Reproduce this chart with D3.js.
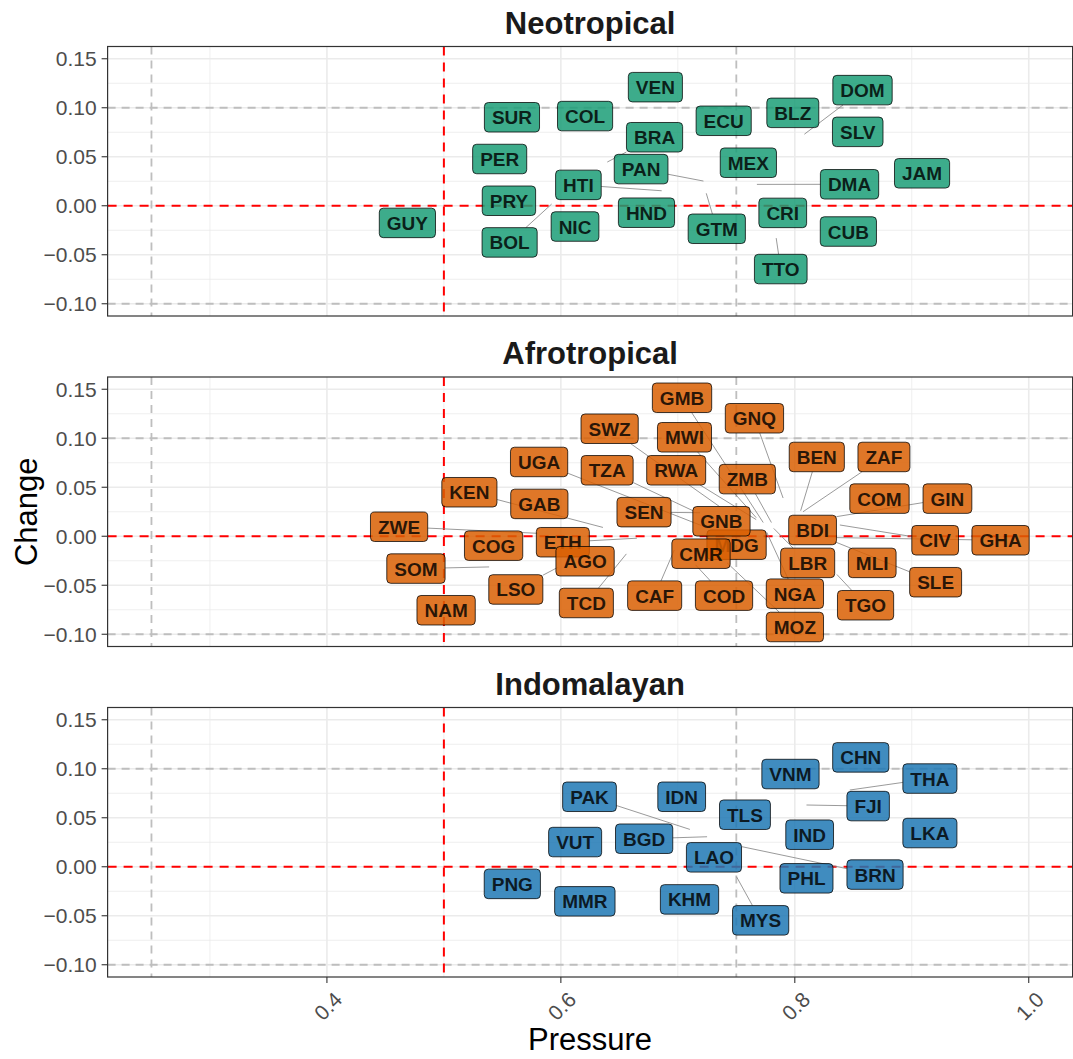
<!DOCTYPE html>
<html>
<head>
<meta charset="utf-8">
<script src="https://cdn.jsdelivr.net/npm/d3@7"></script>
<style>
  body { margin: 0; background: #ffffff; }
  svg { display: block; }
</style>
</head>
<body>
<svg id="chart" width="1073" height="1059"></svg>
<script>
// ---- Data -------------------------------------------------------------
const realms = ["Neotropical", "Afrotropical", "Indomalayan"];
const realmColors = ["#1B9E77", "#D95F02", "#1F78B4"];

// Neotropical: country code, pressure, change, and resolved label anchor (data units)
const neoCodes          = ["GUY","SUR","COL","VEN","ECU","BLZ","DOM","SLV","BRA","PAN","HTI","PER","PRY","BOL","NIC","HND","GTM","MEX","DMA","CRI","CUB","TTO","JAM"];
const neoPressure       = [0.4688,0.5582,0.6207,0.6808,0.7392,0.7983,0.8082,0.8538,0.6397,0.7219,0.6862,0.5477,0.5556,0.5921,0.6121,0.6732,0.7243,0.7603,0.7676,0.7897,0.8458,0.7841,0.9088];
const neoChange         = [-0.0175,0.0903,0.0915,0.121,0.0867,0.0948,0.073,0.0754,0.0446,0.0252,0.0153,0.0477,0.0051,0.0017,-0.0212,-0.0071,0.0127,0.0439,0.0218,-0.0073,-0.0263,-0.033,0.0331];
const neoLabelPressure  = [0.4688,0.5582,0.6207,0.6808,0.7392,0.7983,0.8579,0.8538,0.6801,0.6686,0.615,0.5477,0.5556,0.5562,0.6121,0.6732,0.7333,0.7603,0.8468,0.7897,0.8458,0.788,0.9088];
const neoLabelChange    = [-0.0175,0.0903,0.0915,0.121,0.0867,0.0948,0.118,0.0754,0.0699,0.0374,0.0213,0.0477,0.0051,-0.0374,-0.0212,-0.0071,-0.0235,0.0439,0.0219,-0.0073,-0.0263,-0.0646,0.0331];

// Afrotropical
const afroCodes         = ["GMB","SWZ","MWI","GNQ","UGA","TZA","RWA","ZMB","BEN","ZAF","KEN","GAB","SEN","MDG","GNB","COM","GIN","ZWE","COG","ETH","BDI","CIV","GHA","AGO","CMR","SOM","LBR","MLI","LSO","SLE","NAM","TCD","CAF","COD","NGA","TGO","MOZ"];
const afroPressure      = [0.773,0.736,0.767,0.790,0.720,0.713,0.767,0.780,0.805,0.807,0.636,0.5816,0.719,0.7502,0.7373,0.8724,0.8356,0.580,0.5425,0.665,0.8152,0.8385,0.8356,0.6207,0.7198,0.5387,0.782,0.8662,0.597,0.835,0.5019,0.656,0.697,0.715,0.776,0.836,0.742];
const afroChange        = [0.014,0.030,0.019,0.039,0.011,0.026,0.017,0.014,0.026,0.025,0.009,0.033,0.024,-0.0086,0.0153,0.0384,0.020,0.003,-0.0096,-0.002,0.0064,0.0115,-0.0014,-0.0255,-0.0178,-0.0313,0.008,-0.0272,-0.032,-0.006,-0.0755,-0.018,-0.014,-0.029,0.004,-0.039,-0.027];
const afroLabelPressure = [0.7036,0.6417,0.7057,0.7655,0.5814,0.6396,0.6986,0.7594,0.8188,0.8762,0.5218,0.5816,0.6711,0.7502,0.7373,0.8724,0.9305,0.4617,0.5425,0.6017,0.8152,0.92,0.9759,0.6207,0.7198,0.4761,0.811,0.8662,0.5615,0.9204,0.5019,0.6218,0.6802,0.7395,0.8001,0.8605,0.8001];
const afroLabelChange   = [0.1413,0.1097,0.101,0.1204,0.0758,0.0673,0.0673,0.0583,0.0809,0.0809,0.0449,0.033,0.0246,-0.0086,0.0153,0.0384,0.0384,0.0097,-0.0096,-0.0061,0.0064,-0.0041,-0.0041,-0.0255,-0.0178,-0.033,-0.0272,-0.0272,-0.0543,-0.0469,-0.0755,-0.0681,-0.0606,-0.0606,-0.0586,-0.0704,-0.0926];

// Indomalayan
const indoCodes         = ["CHN","VNM","THA","PAK","IDN","FJI","TLS","IND","LKA","VUT","BGD","LAO","PHL","BRN","PNG","MMR","KHM","MYS"];
const indoPressure      = [0.8564,0.7963,0.847,0.7103,0.7033,0.81,0.7574,0.8127,0.9155,0.6122,0.725,0.7309,0.81,0.7547,0.5585,0.6205,0.71,0.7502];
const indoChange        = [0.1116,0.0946,0.0783,0.0381,0.0714,0.063,0.0531,0.0327,0.0344,0.0252,0.0306,0.0096,-0.0118,0.0205,-0.0175,-0.0353,-0.0333,-0.0102];
const indoLabelPressure = [0.8564,0.7963,0.9155,0.6245,0.7033,0.8627,0.7574,0.8127,0.9155,0.6122,0.6712,0.7309,0.81,0.8686,0.5585,0.6205,0.71,0.7708];
const indoLabelChange   = [0.1116,0.0946,0.09,0.0714,0.0714,0.0619,0.0531,0.0327,0.0344,0.0252,0.0286,0.0096,-0.0118,-0.008,-0.0175,-0.0353,-0.0333,-0.0547];

// Axes and reference lines
const xTickValues = [0.4, 0.6, 0.8, 1.0];
const xMinorValues = [0.3, 0.5, 0.7, 0.9];
const yTickValues = [-0.10, -0.05, 0.00, 0.05, 0.10, 0.15];
const yMinorValues = [-0.075, -0.025, 0.025, 0.075, 0.125];
const pressureGuides = [0.25, 0.75];
const changeGuides = [-0.10, 0.10];
const pressureThreshold = 0.5;
const changeThreshold = 0;
const xTitle = "Pressure";
const yTitle = "Change";

// ---- Assemble ---------------------------------------------------------
function rows(codes, px, py, lx, ly) {
  return codes.map((c, i) => ({ code: c, pressure: px[i], change: py[i], lp: lx[i], lc: ly[i] }));
}
const panels = [
  rows(neoCodes, neoPressure, neoChange, neoLabelPressure, neoLabelChange),
  rows(afroCodes, afroPressure, afroChange, afroLabelPressure, afroLabelChange),
  rows(indoCodes, indoPressure, indoChange, indoLabelPressure, indoLabelChange)
];

// ---- Layout -----------------------------------------------------------
const FONT = "'Liberation Sans', Arial, Helvetica, sans-serif";
const svg = d3.select("#chart");
const W = 1073, H = 1059;
svg.append("rect").attr("width", W).attr("height", H).attr("fill", "#ffffff");

const plotLeft = 107.6, plotRight = 1072.6;
const panelTop0 = 46.5, panelStep = 330.5, panelH = 269.5;

const x = d3.scaleLinear().domain([0.2125, 1.0375]).range([plotLeft, plotRight]);

const labelFont = 19, padX = 7.5, boxH = 29.5;

panels.forEach((data, pi) => {
  const top = panelTop0 + pi * panelStep;
  const y = d3.scaleLinear().domain([-0.1125, 0.1625]).range([top + panelH, top]);
  const g = svg.append("g");

  // strip title
  svg.append("text")
    .attr("x", (plotLeft + plotRight) / 2)
    .attr("y", top - 13)
    .attr("text-anchor", "middle")
    .attr("font-family", FONT)
    .attr("font-weight", "bold")
    .attr("font-size", 31)
    .attr("fill", "#1a1a1a")
    .text(realms[pi]);

  // grid
  g.selectAll(".xminor").data(xMinorValues).join("line")
    .attr("x1", d => x(d)).attr("x2", d => x(d))
    .attr("y1", top).attr("y2", top + panelH)
    .attr("stroke", "#ebebeb").attr("stroke-width", 0.8);
  g.selectAll(".yminor").data(yMinorValues).join("line")
    .attr("x1", plotLeft).attr("x2", plotRight)
    .attr("y1", d => y(d)).attr("y2", d => y(d))
    .attr("stroke", "#ebebeb").attr("stroke-width", 0.8);
  g.selectAll(".xmajor").data(xTickValues).join("line")
    .attr("x1", d => x(d)).attr("x2", d => x(d))
    .attr("y1", top).attr("y2", top + panelH)
    .attr("stroke", "#ebebeb").attr("stroke-width", 1.6);
  g.selectAll(".ymajor").data(yTickValues).join("line")
    .attr("x1", plotLeft).attr("x2", plotRight)
    .attr("y1", d => y(d)).attr("y2", d => y(d))
    .attr("stroke", "#ebebeb").attr("stroke-width", 1.6);

  // grey guides
  g.selectAll(".pg").data(pressureGuides).join("line")
    .attr("x1", d => x(d)).attr("x2", d => x(d))
    .attr("y1", top).attr("y2", top + panelH)
    .attr("stroke", "#bebebe").attr("stroke-width", 1.8)
    .attr("stroke-dasharray", "8,6");
  g.selectAll(".cg").data(changeGuides).join("line")
    .attr("x1", plotLeft).attr("x2", plotRight)
    .attr("y1", d => y(d)).attr("y2", d => y(d))
    .attr("stroke", "#bebebe").attr("stroke-width", 1.8)
    .attr("stroke-dasharray", "8,6");

  // red thresholds
  g.append("line")
    .attr("x1", x(pressureThreshold)).attr("x2", x(pressureThreshold))
    .attr("y1", top).attr("y2", top + panelH)
    .attr("stroke", "#ff0000").attr("stroke-width", 2)
    .attr("stroke-dasharray", "9,7");
  g.append("line")
    .attr("x1", plotLeft).attr("x2", plotRight)
    .attr("y1", y(changeThreshold)).attr("y2", y(changeThreshold))
    .attr("stroke", "#ff0000").attr("stroke-width", 2)
    .attr("stroke-dasharray", "9,7");

  // measure labels
  const measure = svg.append("text")
    .attr("font-family", FONT).attr("font-weight", "bold").attr("font-size", labelFont);
  data.forEach(d => {
    measure.text(d.code);
    d.w = measure.node().getComputedTextLength() + 2 * padX;
    d.h = boxH;
    d.cx = x(d.lp); d.cy = y(d.lc);
    d.px = x(d.pressure); d.py = y(d.change);
  });
  measure.remove();

  // leader segments from point to label edge
  const segs = [];
  data.forEach(d => {
    const dx = d.px - d.cx, dy = d.py - d.cy;
    const hw = d.w / 2, hh = d.h / 2;
    if (Math.abs(dx) <= hw && Math.abs(dy) <= hh) return;
    const t = Math.min(hw / Math.max(Math.abs(dx), 1e-9), hh / Math.max(Math.abs(dy), 1e-9));
    const ex = d.cx + dx * t, ey = d.cy + dy * t;
    if (Math.hypot(d.px - ex, d.py - ey) < 3) return;
    segs.push({ x1: d.px, y1: d.py, x2: ex, y2: ey });
  });
  g.selectAll(".seg").data(segs).join("line")
    .attr("x1", s => s.x1).attr("y1", s => s.y1)
    .attr("x2", s => s.x2).attr("y2", s => s.y2)
    .attr("stroke", "#808080").attr("stroke-width", 0.8);

  // labels
  const lab = g.selectAll(".lab").data(data).join("g");
  lab.append("rect")
    .attr("x", d => d.cx - d.w / 2).attr("y", d => d.cy - d.h / 2)
    .attr("width", d => d.w).attr("height", d => d.h)
    .attr("rx", 4).attr("ry", 4)
    .attr("fill", realmColors[pi]).attr("fill-opacity", 0.85)
    .attr("stroke", "#000").attr("stroke-opacity", 0.75).attr("stroke-width", 1);
  lab.append("text")
    .attr("x", d => d.cx).attr("y", d => d.cy + 0.5)
    .attr("text-anchor", "middle").attr("dominant-baseline", "central")
    .attr("font-family", FONT).attr("font-weight", "bold").attr("font-size", labelFont)
    .attr("fill", "#000").attr("fill-opacity", 0.82)
    .text(d => d.code);

  // panel border
  g.append("rect")
    .attr("x", plotLeft).attr("y", top)
    .attr("width", plotRight - plotLeft).attr("height", panelH)
    .attr("fill", "none").attr("stroke", "#333333").attr("stroke-width", 1.2);

  // y axis
  const yAxis = g.append("g");
  yAxis.selectAll("line").data(yTickValues).join("line")
    .attr("x1", plotLeft - 6).attr("x2", plotLeft)
    .attr("y1", d => y(d)).attr("y2", d => y(d))
    .attr("stroke", "#333333").attr("stroke-width", 1.1);
  yAxis.selectAll("text").data(yTickValues).join("text")
    .attr("x", plotLeft - 11).attr("y", d => y(d))
    .attr("text-anchor", "end").attr("dominant-baseline", "central")
    .attr("font-family", FONT).attr("font-size", 21).attr("fill", "#4d4d4d")
    .text(d => d3.format(".2f")(d).replace("-", "\u2212"));

  // x axis ticks only on the bottom panel
  if (pi === panels.length - 1) {
    const bottom = top + panelH;
    const xAxis = g.append("g");
    xAxis.selectAll("line").data(xTickValues).join("line")
      .attr("x1", d => x(d)).attr("x2", d => x(d))
      .attr("y1", bottom).attr("y2", bottom + 6)
      .attr("stroke", "#333333").attr("stroke-width", 1.1);
    xAxis.selectAll("text").data(xTickValues).join("text")
      .attr("x", d => x(d) + 1).attr("y", bottom + 29)
      .attr("transform", d => `rotate(-45, ${x(d) + 1}, ${bottom + 29})`)
      .attr("text-anchor", "middle").attr("dominant-baseline", "central")
      .attr("font-family", FONT).attr("font-size", 21).attr("fill", "#4d4d4d")
      .text(d => d3.format(".1f")(d));
  }
});

// axis titles
svg.append("text")
  .attr("x", (plotLeft + plotRight) / 2).attr("y", 1050)
  .attr("text-anchor", "middle")
  .attr("font-family", FONT).attr("font-size", 31).attr("fill", "#000")
  .text(xTitle);
const midY = (panelTop0 + panelTop0 + 2 * panelStep + panelH) / 2;
svg.append("text")
  .attr("x", 37).attr("y", midY)
  .attr("transform", `rotate(-90, 37, ${midY})`)
  .attr("text-anchor", "middle")
  .attr("font-family", FONT).attr("font-size", 31).attr("fill", "#000")
  .text(yTitle);
</script>
</body>
</html>
